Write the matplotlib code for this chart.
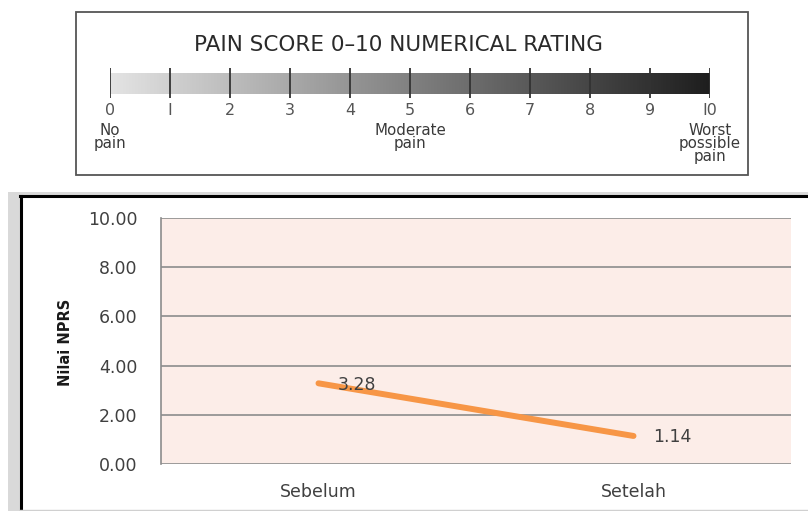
import numpy as np
import matplotlib.pyplot as plt
from matplotlib.patches import Rectangle
from matplotlib.lines import Line2D
from matplotlib.colors import LinearSegmentedColormap

# chart data
categories = ['Sebelum', 'Setelah']
nprs_values = [3.28, 1.14]
y_ticks = [0, 2, 4, 6, 8, 10]

# pain scale data
scale_values = list(range(0, 11))
scale_labels = ['0', 'I', '2', '3', '4', '5', '6', '7', '8', '9', 'I0']
anchor_pos = [0, 5, 10]
anchor_text = ['No\npain', 'Moderate\npain', 'Worst\npossible\npain']

W, H = 808, 511
plt.rcParams['font.family'] = ['DejaVu Sans']
fig = plt.figure(figsize=(W / 100, H / 100), dpi=100)


def fx(px):
    return px / W


def fy(py):
    return 1 - py / H


# ---- background decorations (pixel-based overlay) ----
bg = fig.add_axes([0, 0, 1, 1])
bg.set_xlim(0, W)
bg.set_ylim(H, 0)
bg.axis('off')
# framed box around the pain scale
bg.add_patch(Rectangle((76, 12), 672, 163, fill=False, ec='#555555', lw=1.3))
# grey band + chart frame
bg.add_patch(Rectangle((8, 192), W - 8, H - 192, fc='#d9d9d9', ec='none'))
bg.add_patch(Rectangle((20, 196), W - 20, H - 196, fc='white', ec='none'))
bg.add_line(Line2D([21, 21], [196, H], color='black', lw=2.2))
bg.add_line(Line2D([20, W], [196, 196], color='black', lw=2.2))
bg.add_line(Line2D([20, W], [510, 510], color='#d0d0d0', lw=1))

fig.text(fx(398), fy(45), 'PAIN SCORE 0\u201310 NUMERICAL RATING',
         ha='center', va='center', fontsize=15.5, color='#2a2a2a')

# ---- pain scale ----
sc = fig.add_axes([fx(110), fy(98), fx(600), (98 - 68) / H])
sc.set_xlim(0, 10)
sc.set_ylim(0, 1)
sc.axis('off')
grad = np.linspace(0, 1, 256).reshape(1, -1)
sc.imshow(grad, extent=[0, 10, 0.13, 0.8], aspect='auto',
          cmap=LinearSegmentedColormap.from_list('pain', ['#e4e4e4', '#1e1e1e']))
sc.vlines(scale_values, 0, 1, color='#333333', lw=1.3)
for v, lab in zip(scale_values, scale_labels):
    sc.text(v, -0.42, lab, ha='center', va='center', fontsize=11.5,
            color='#555555', clip_on=False)
for v, lab in zip(anchor_pos, anchor_text):
    sc.text(v, -0.82, lab, ha='center', va='top', fontsize=10.8,
            color='#3a3a3a', linespacing=0.85, clip_on=False)

# ---- line chart ----
ax = fig.add_axes([fx(161), fy(464), fx(791 - 161), (464 - 218) / H])
ax.set_facecolor('#fcede8')
x = np.arange(len(categories))
ax.plot(x, nprs_values, color='#f79646', lw=4.3, solid_capstyle='round', zorder=3)
for xi, v in zip(x, nprs_values):
    ax.annotate(f'{v:.2f}', (xi, v), xytext=(14, -1), textcoords='offset points',
                ha='left', va='center', fontsize=12.5, color='#404040', zorder=4)
ax.set_xlim(-0.5, 1.5)
ax.set_ylim(0, 10)
ax.set_yticks(y_ticks)
ax.set_yticklabels([f'{t:.2f}' for t in y_ticks])
ax.set_xticks(x)
ax.set_xticklabels(categories)
ax.yaxis.grid(True, color='#8c8c8c', lw=1.2)
ax.set_axisbelow(True)
ax.tick_params(axis='both', length=0, labelsize=12.5, labelcolor='#404040')
ax.tick_params(axis='y', pad=17)
ax.tick_params(axis='x', pad=14)
for s in ['top', 'right', 'bottom']:
    ax.spines[s].set_visible(False)
ax.spines['left'].set_color('#8c8c8c')
ax.spines['left'].set_linewidth(1.2)
fig.text(fx(65), fy(342), 'Nilai NPRS', rotation=90, ha='center', va='center',
         fontsize=10.5, fontweight='bold', color='#1a1a1a')

fig.savefig('out.png', dpi=100)
